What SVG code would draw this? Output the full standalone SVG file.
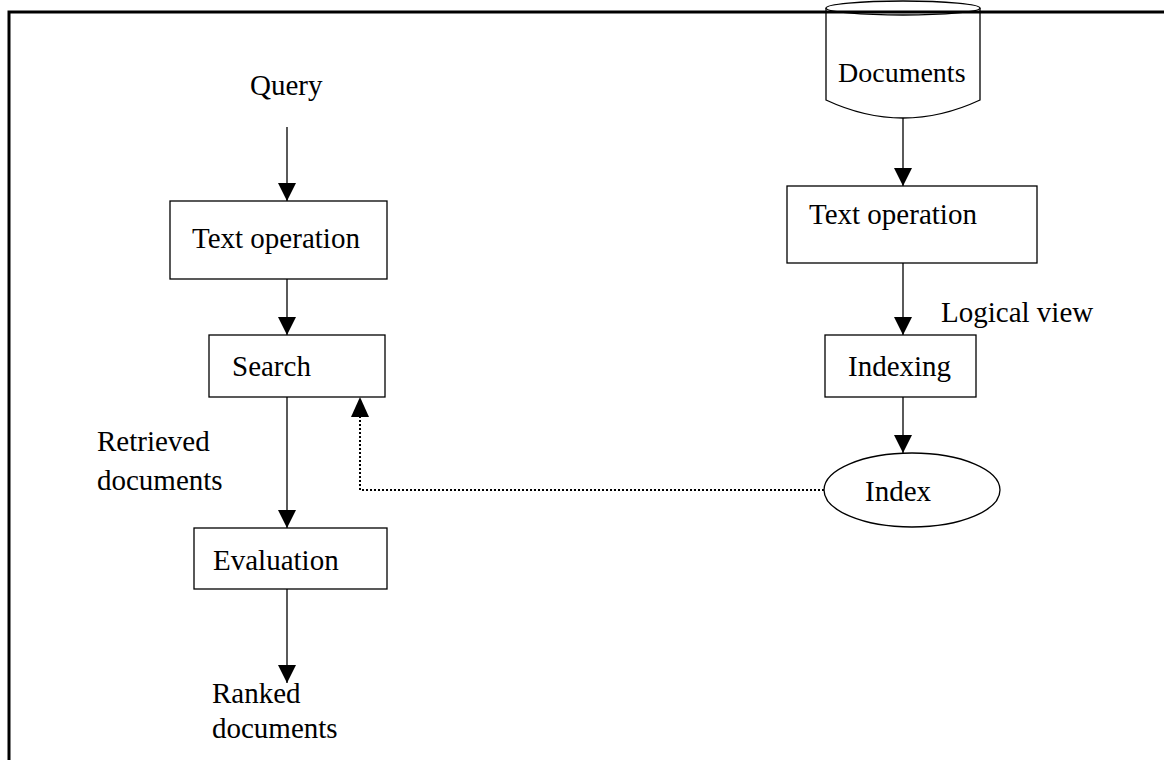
<svg xmlns="http://www.w3.org/2000/svg" width="1164" height="760" viewBox="0 0 1164 760">
<style>
text{font-family:"Liberation Serif","Times New Roman",serif;font-size:29px;fill:#000}
.box{fill:#fff;stroke:#000;stroke-width:1.3}
.ln{fill:none;stroke:#000;stroke-width:1.3}
.dot{fill:none;stroke:#000;stroke-width:2;stroke-dasharray:2 2}
</style>
<defs>
<marker id="ah" viewBox="0 0 18 20" refX="18" refY="9" markerWidth="18" markerHeight="20" markerUnits="userSpaceOnUse" orient="auto">
<path d="M0,0 L18,9 L0,18 Z" fill="#000"/>
</marker>
</defs>
<rect width="1164" height="760" fill="#fff"/>
<g id="documents">
<path class="box" d="M826,8 V100 Q903,136 980,100 V8"/>
<ellipse class="box" cx="903" cy="8" rx="77" ry="7"/>
<text x="838" y="82" style="font-size:28px">Documents</text>
</g>
<path d="M9,760 V12 H1164" fill="none" stroke="#000" stroke-width="3"/>
<g id="connectors">
<line class="ln" x1="287" y1="127" x2="287" y2="201" marker-end="url(#ah)"/>
<line class="ln" x1="287" y1="279" x2="287" y2="335" marker-end="url(#ah)"/>
<line class="ln" x1="287" y1="397" x2="287" y2="528" marker-end="url(#ah)"/>
<line class="ln" x1="287" y1="589" x2="287" y2="683" marker-end="url(#ah)"/>
<line class="ln" x1="903" y1="118" x2="903" y2="186" marker-end="url(#ah)"/>
<line class="ln" x1="903" y1="263" x2="903" y2="335" marker-end="url(#ah)"/>
<line class="ln" x1="903" y1="397" x2="903" y2="453" marker-end="url(#ah)"/>
<path class="dot" d="M824,490 H360 V417"/>
<path d="M351,417 L360,397 L369,417 Z" fill="#000"/>
</g>
<g id="query"><text x="250" y="95">Query</text></g>
<g id="textop-left"><rect class="box" x="170" y="201" width="217" height="78"/><text x="192" y="248">Text operation</text></g>
<g id="search"><rect class="box" x="209" y="335" width="176" height="62"/><text x="232" y="376">Search</text></g>
<g id="retrieved"><text x="97" y="451">Retrieved</text><text x="97" y="490">documents</text></g>
<g id="evaluation"><rect class="box" x="194" y="528" width="193" height="61"/><text x="213" y="570">Evaluation</text></g>
<g id="ranked"><text x="212" y="703">Ranked</text><text x="212" y="738">documents</text></g>
<g id="textop-right"><rect class="box" x="787" y="186" width="250" height="77"/><text x="809" y="224">Text operation</text></g>
<g id="logical"><text x="941" y="322">Logical view</text></g>
<g id="indexing"><rect class="box" x="825" y="335" width="151" height="62"/><text x="848" y="376">Indexing</text></g>
<g id="index"><ellipse class="box" cx="912" cy="490" rx="88" ry="37"/><text x="865" y="501">Index</text></g>
</svg>
